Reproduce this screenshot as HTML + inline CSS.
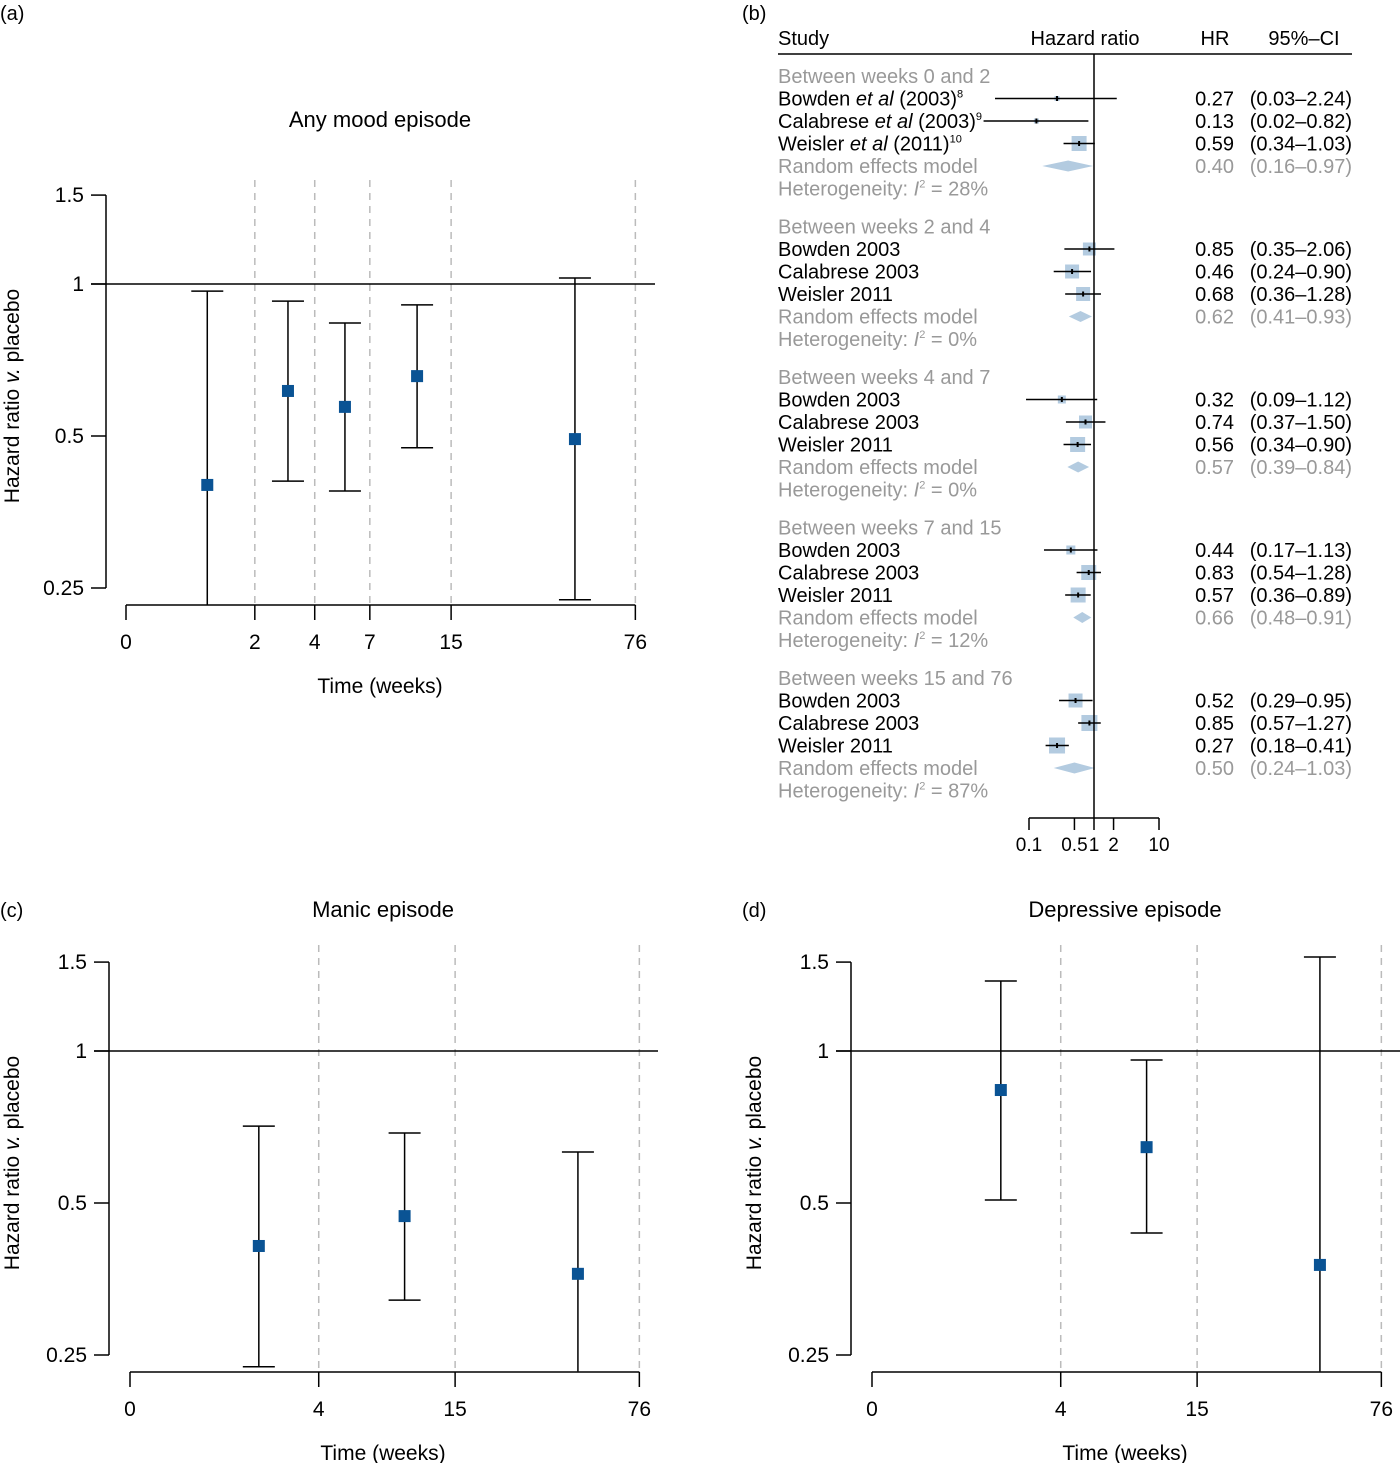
<!DOCTYPE html>
<html><head><meta charset="utf-8"><style>
body{margin:0;background:#fff;}
svg{display:block;font-family:"Liberation Sans",sans-serif;}
</style></head><body>
<svg id="s" width="1400" height="1463" viewBox="0 0 1400 1463" xmlns="http://www.w3.org/2000/svg">
<text x="0" y="20" font-size="20">(a)</text>
<text x="742" y="20" font-size="20">(b)</text>
<text x="0" y="917" font-size="20">(c)</text>
<text x="742" y="917" font-size="20">(d)</text>
</svg>
<script>
const NS="http://www.w3.org/2000/svg";
const svg=document.getElementById('s');
function el(t,a,p){const e=document.createElementNS(NS,t);for(const k in a)e.setAttribute(k,a[k]);(p||svg).appendChild(e);return e;}

// ---- time panels data ----
const yTicks=[1.5,1,0.5,0.25];
const aWeeks=[0,2,4,7,15,76];
const aPointWeek=[1,2.98,5.47,10.97,45];
const aHR=[0.40,0.614,0.571,0.657,0.493];
const aLow=[0.231,0.407,0.389,0.474,0.237];
const aHigh=[0.968,0.925,0.837,0.909,1.028];
const cWeeks=[0,4,15,76];
const cPointWeek=[2,9.4,44.6];
const cHR=[0.411,0.471,0.362];
const cLow=[0.237,0.321,0.232];
const cHigh=[0.710,0.688,0.631];
const dWeeks=[0,4,15,76];
const dPointWeek=[2,9.4,44.6];
const dHR=[0.837,0.645,0.377];
const dLow=[0.507,0.436,0.232];
const dHigh=[1.376,0.96,1.535];

function timePanel(o){
  const g=el('g',{});
  
  
  const y=v=>o.y1-Math.log2(v)*152;
  const x=w=>o.x0+Math.log10(w+1)*270;
  const ymin=y(0.25)+17;
  o.weeks.slice(1).forEach(w=>{
    const l=el('line',{x1:x(w),x2:x(w),y1:o.dashTop,y2:ymin,stroke:'#bbb','stroke-width':1.5,'stroke-dasharray':'7,6'},g);
    
    
  });
  const ya=el('line',{x1:o.yax,x2:o.yax,y1:y(1.5),y2:y(0.25),stroke:'#000','stroke-width':1.5},g);
  
  
  yTicks.forEach(v=>{
    el('line',{x1:o.yax-15,x2:o.yax,y1:y(v),y2:y(v),stroke:'#000','stroke-width':1.5},g);
    const t=el('text',{x:o.yax-22,y:y(v)+7,'font-size':21,'text-anchor':'end'},g);
    t.textContent=String(v);
    
    
  });
  const rl=el('line',{x1:o.yax-15,x2:o.refEnd,y1:y(1),y2:y(1),stroke:'#000','stroke-width':1.5},g);
  
  
  const xa=el('line',{x1:x(0),x2:x(76),y1:ymin,y2:ymin,stroke:'#000','stroke-width':1.5},g);
  
  
  o.weeks.forEach(w=>{
    el('line',{x1:x(w),x2:x(w),y1:ymin,y2:ymin+15,stroke:'#000','stroke-width':1.5},g);
    const t=el('text',{x:x(w),y:ymin+44,'font-size':21,'text-anchor':'middle'},g);
    t.textContent=String(w);
    
    
  });
  const xt=el('text',{x:o.xtitle,y:ymin+88,'font-size':21,'text-anchor':'middle'},g);
  xt.textContent='Time (weeks)';
  
  
  const yt=el('text',{x:0,y:0,'font-size':21,'text-anchor':'middle',transform:`translate(${o.ytx},${y(0.6)}) rotate(-90)`},g);
  yt.innerHTML='Hazard ratio <tspan font-style="italic">v.</tspan> placebo';
  
  
  const tt=el('text',{x:o.xtitle,y:o.titleY,'font-size':22,'text-anchor':'middle'},g);
  tt.textContent=o.title;
  
  
  o.pw.forEach((w,i)=>{
    const px=x(w);
    const ci=el('g',{stroke:'#000','stroke-width':1.5},g);
    
    
    el('line',{x1:px,x2:px,y1:y(o.hi[i]),y2:Math.min(y(o.lo[i]),ymin)},ci);
    el('line',{x1:px-16,x2:px+16,y1:y(o.hi[i]),y2:y(o.hi[i])},ci);
    if(y(o.lo[i])<ymin-1)el('line',{x1:px-16,x2:px+16,y1:y(o.lo[i]),y2:y(o.lo[i])},ci);
    const m=el('rect',{x:px-6,y:y(o.hr[i])-6,width:12,height:12,fill:'#0a5394'},g);
    
    
  });
}
timePanel({name:'panel-a-any-mood',y1:284,x0:126,yax:106,refEnd:655,dashTop:180,xtitle:380,ytx:19,titleY:127,title:'Any mood episode',weeks:aWeeks,pw:aPointWeek,hr:aHR,lo:aLow,hi:aHigh});
timePanel({name:'panel-c-manic',y1:1051,x0:130,yax:109,refEnd:658,dashTop:945,xtitle:383,ytx:19,titleY:917,title:'Manic episode',weeks:cWeeks,pw:cPointWeek,hr:cHR,lo:cLow,hi:cHigh});
timePanel({name:'panel-d-depressive',y1:1051,x0:872,yax:851,refEnd:1400,dashTop:945,xtitle:1125,ytx:761,titleY:917,title:'Depressive episode',weeks:dWeeks,pw:dPointWeek,hr:dHR,lo:dLow,hi:dHigh});

// ---- forest plot data ----
const fGroups=['Between weeks 0 and 2','Between weeks 2 and 4','Between weeks 4 and 7','Between weeks 7 and 15','Between weeks 15 and 76'];
const fHR=[[0.27,0.13,0.59],[0.85,0.46,0.68],[0.32,0.74,0.56],[0.44,0.83,0.57],[0.52,0.85,0.27]];
const fLow=[[0.03,0.02,0.34],[0.35,0.24,0.36],[0.09,0.37,0.34],[0.17,0.54,0.36],[0.29,0.57,0.18]];
const fHigh=[[2.24,0.82,1.03],[2.06,0.90,1.28],[1.12,1.50,0.90],[1.13,1.28,0.89],[0.95,1.27,0.41]];
const fWeight=[[5,5,15],[13,14,14],[8,13,15],[9,15,15],[14,16,16]];
const fPooled=[0.40,0.62,0.57,0.66,0.50];
const fPLow=[0.16,0.41,0.39,0.48,0.24];
const fPHigh=[0.97,0.93,0.84,0.91,1.03];
const fI2=['28%','0%','0%','12%','87%'];
const fTicks=[0.1,0.5,1,2,10];

const fx=v=>1094+Math.log10(v)*65;
const fr=el('g',{});


function T(x,y,s,anchor,fill,name){const t=el('text',{x:x,y:y,'font-size':20,'text-anchor':anchor||'start',fill:fill||'#000'},fr);t.innerHTML=s;return t;}
T(778,45,'Study','start','#000','header-study');
T(1085,45,'Hazard ratio','middle','#000','header-hazard-ratio');
T(1215,45,'HR','middle','#000','header-hr');
T(1304,45,'95%–CI','middle','#000','header-ci');
el('line',{x1:778,x2:1352,y1:54,y2:54,stroke:'#000','stroke-width':1.5},fr);
const names=[['Bowden <tspan font-style="italic">et al</tspan> (2003)<tspan font-size="11" dy="-8">8</tspan>','Calabrese <tspan font-style="italic">et al</tspan> (2003)<tspan font-size="11" dy="-8">9</tspan>','Weisler <tspan font-style="italic">et al</tspan> (2011)<tspan font-size="11" dy="-8">10</tspan>']];
const names2=['Bowden 2003','Calabrese 2003','Weisler 2011'];
const f2=v=>v.toFixed(2);
fGroups.forEach((g,gi)=>{
  const base=83+gi*150.5;
  T(778,base,g,'start','#999','group-heading');
  for(let i=0;i<3;i++){
    const yy=base+22.5*(i+1);
    T(778,yy,gi===0?names[0][i]:names2[i],'start','#000','study-name');
    T(1234,yy,f2(fHR[gi][i]),'end','#000','hr-value');
    T(1352,yy,'('+f2(fLow[gi][i])+'–'+f2(fHigh[gi][i])+')','end','#000','ci-value');
    const cy=yy-7, w=fWeight[gi][i];
    const sq=el('rect',{x:fx(fHR[gi][i])-w/2,y:cy-w/2,width:w,height:w,fill:'#b3cbe0'},fr);
    
    
    const ln=el('line',{x1:fx(fLow[gi][i]),x2:fx(fHigh[gi][i]),y1:cy,y2:cy,stroke:'#000','stroke-width':1.5},fr);
    
    
    el('line',{x1:fx(fHR[gi][i]),x2:fx(fHR[gi][i]),y1:cy-2.5,y2:cy+2.5,stroke:'#000','stroke-width':2},fr);
  }
  const py=base+90;
  T(778,py,'Random effects model','start','#999','pooled-label');
  T(1234,py,f2(fPooled[gi]),'end','#999','pooled-hr');
  T(1352,py,'('+f2(fPLow[gi])+'–'+f2(fPHigh[gi])+')','end','#999','pooled-ci');
  const dy=py-7;
  const d=el('polygon',{points:`${fx(fPLow[gi])},${dy} ${fx(fPooled[gi])},${dy-5.5} ${fx(fPHigh[gi])},${dy} ${fx(fPooled[gi])},${dy+5.5}`,fill:'#b3cbe0'},fr);
  
  
  T(778,base+112.5,'Heterogeneity: <tspan font-style="italic">I</tspan><tspan font-size="11" dy="-8">2</tspan><tspan dy="8"> = '+fI2[gi]+'</tspan>','start','#999','heterogeneity');
});
const vl=el('line',{x1:fx(1),x2:fx(1),y1:54,y2:818,stroke:'#000','stroke-width':1.5},fr);


el('line',{x1:fx(0.1),x2:fx(10),y1:818,y2:818,stroke:'#000','stroke-width':1.5},fr);
fTicks.forEach(v=>{
  el('line',{x1:fx(v),x2:fx(v),y1:818,y2:830,stroke:'#000','stroke-width':1.5},fr);
  const t=el('text',{x:fx(v),y:851,'font-size':19,'text-anchor':'middle'},fr);
  t.textContent=String(v);
  
  
});
</script>
</body></html>
